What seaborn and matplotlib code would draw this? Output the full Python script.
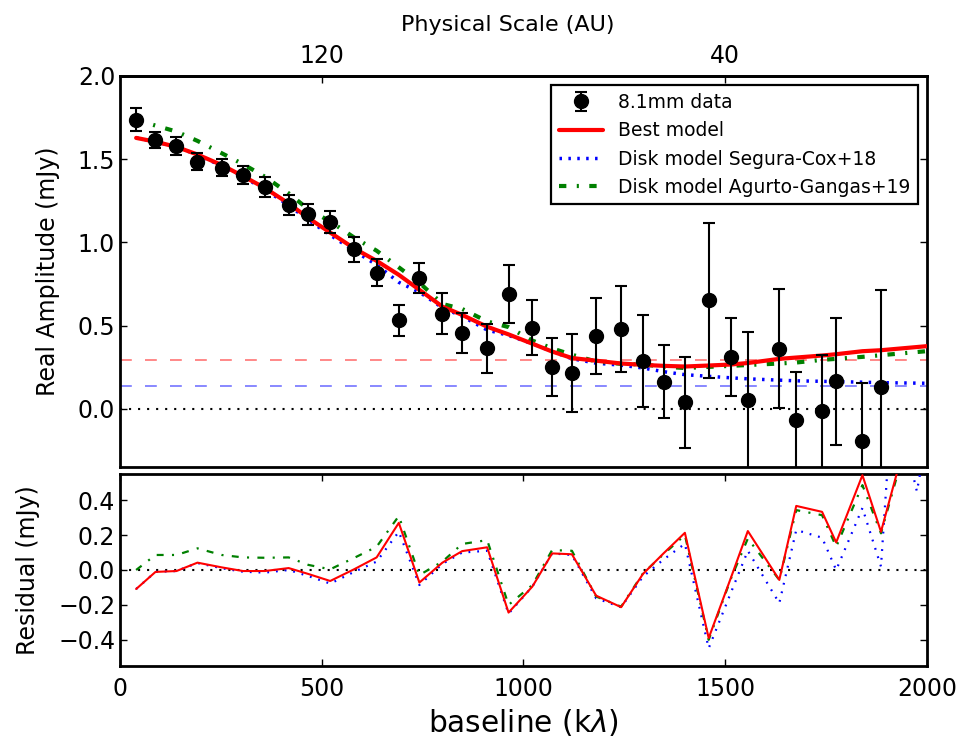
import numpy as np
import pandas as pd
import matplotlib
matplotlib.use("Agg")
import matplotlib.pyplot as plt
import seaborn as sns

# ---------------- data ----------------
baseline = [40, 88, 140, 192, 252, 305, 359, 418, 467, 521, 581, 636, 691, 742,
            799, 848, 910, 963, 1022, 1071, 1120, 1180, 1242, 1296, 1347, 1400,
            1459, 1514, 1556, 1634, 1676, 1740, 1775, 1840, 1886]
amp = [1.737, 1.616, 1.580, 1.486, 1.450, 1.404, 1.333, 1.223, 1.169, 1.122,
       0.958, 0.817, 0.532, 0.787, 0.572, 0.456, 0.363, 0.691, 0.486, 0.249,
       0.215, 0.436, 0.480, 0.289, 0.163, 0.038, 0.652, 0.311, 0.050, 0.361,
       -0.066, -0.016, 0.164, -0.195, 0.132]
amp_err = [0.07, 0.046, 0.056, 0.05, 0.052, 0.056, 0.058, 0.06, 0.062, 0.065,
           0.073, 0.082, 0.092, 0.092, 0.122, 0.118, 0.148, 0.175, 0.165, 0.175,
           0.235, 0.229, 0.259, 0.276, 0.22, 0.272, 0.466, 0.234, 0.41, 0.358,
           0.29, 0.34, 0.384, 0.35, 0.58]

# model curves (sampled at the data baselines plus one point beyond 2000 kλ)
model_base = baseline + [2040]
best_model = [1.628, 1.605, 1.574, 1.528, 1.465, 1.398, 1.327, 1.234, 1.146, 1.059,
              0.963, 0.889, 0.805, 0.715, 0.614, 0.564, 0.493, 0.447, 0.391, 0.344,
              0.305, 0.289, 0.272, 0.264, 0.258, 0.254, 0.260, 0.266, 0.275, 0.300,
              0.308, 0.320, 0.328, 0.346, 0.352, 0.385]
segura_model = [1.628, 1.605, 1.574, 1.526, 1.460, 1.394, 1.318, 1.223, 1.134, 1.044,
                0.948, 0.865, 0.760, 0.701, 0.607, 0.556, 0.473, 0.441, 0.391, 0.344,
                0.301, 0.274, 0.262, 0.245, 0.223, 0.205, 0.195, 0.186, 0.180, 0.172,
                0.168, 0.165, 0.163, 0.160, 0.157, 0.152]
agurto_model = [1.737, 1.702, 1.666, 1.610, 1.536, 1.470, 1.395, 1.295, 1.198, 1.126,
                1.028, 0.950, 0.850, 0.758, 0.630, 0.600, 0.525, 0.491, 0.410, 0.363,
                0.325, 0.284, 0.270, 0.266, 0.253, 0.245, 0.252, 0.258, 0.263, 0.272,
                0.278, 0.294, 0.300, 0.312, 0.322, 0.355]

# noise levels (horizontal reference lines)
level_best = 0.295
level_segura = 0.139

# residuals (model - data)
res_base_best = baseline + [1960]
res_best = [-0.109, -0.011, -0.006, 0.042, 0.015, -0.006, -0.006, 0.011, -0.023, -0.063,
            0.005, 0.072, 0.270, -0.072, 0.042, 0.108, 0.130, -0.244, -0.095, 0.095,
            0.090, -0.147, -0.213, -0.023, 0.095, 0.213, -0.390, -0.045, 0.223, -0.057,
            0.367, 0.333, 0.158, 0.543, 0.219, 0.85]
res_base_segura = baseline + [1915, 1975, 2010]
res_segura = [-0.109, -0.011, -0.006, 0.040, 0.010, -0.010, -0.015, 0.000, -0.035, -0.078,
              -0.010, 0.048, 0.219, -0.086, 0.035, 0.100, 0.110, -0.250, -0.095, 0.095,
              0.086, -0.162, -0.213, -0.038, 0.060, 0.150, -0.448, -0.130, 0.110, -0.190,
              0.229, 0.185, 0.000, 0.355, 0.020, 1.03, 0.45, 0.90]
res_base_agurto = baseline + [1960]
res_agurto = [0.000, 0.086, 0.086, 0.124, 0.086, 0.072, 0.070, 0.072, 0.029, 0.004,
              0.070, 0.133, 0.309, -0.029, 0.048, 0.149, 0.171, -0.200, -0.086, 0.114,
              0.110, -0.152, -0.210, -0.020, 0.090, 0.200, -0.400, -0.050, 0.180, -0.057,
              0.343, 0.314, 0.133, 0.486, 0.210, 0.82]

au_tick_pos = [500, 1500]
au_tick_labels = ["120", "40"]

# ---------------- style ----------------
sns.set_style("ticks")
plt.rcParams.update({
    "font.family": ["DejaVu Sans"],
    "lines.scale_dashes": False,
    "axes.linewidth": 2.0,
    "xtick.direction": "in",
    "ytick.direction": "in",
    "xtick.major.size": 5,
    "ytick.major.size": 5,
    "xtick.major.width": 1.0,
    "ytick.major.width": 1.0,
    "xtick.labelsize": 17,
    "ytick.labelsize": 17,
    "axes.edgecolor": "black",
    "xtick.color": "black",
    "ytick.color": "black",
    "xtick.labelcolor": "black",
    "ytick.labelcolor": "black",
    "text.color": "black",
    "axes.labelcolor": "black",
})

DOT_TOP = (0, (1.8, 4.6))
DASHDOT_TOP = (0, (5.3, 7.5, 1.5, 7.5))
DOT_RES = (0, (1.3, 5))
DASHDOT_RES = (0, (5, 6, 1.5, 6))

fig = plt.figure(figsize=(9.63, 7.40), dpi=100)
ax1 = fig.add_axes([0.1246, 0.3689, 0.838, 0.5284])
ax2 = fig.add_axes([0.1246, 0.1000, 0.838, 0.2595])

# ---------------- top panel ----------------
ax1.axhline(level_best, color="red", alpha=0.5, lw=1.3, dashes=(8.5, 9.5))
ax1.axhline(level_segura, color="blue", alpha=0.5, lw=1.3, dashes=(8.5, 9.5))
ax1.axhline(0.0, color="black", lw=1.5, dashes=(1.5, 5))

eb = ax1.errorbar(baseline, amp, yerr=amp_err, fmt="o", color="black", ms=10,
                  elinewidth=1.5, capsize=4.5, capthick=1.5, label="8.1mm data",
                  zorder=5)

top_df = pd.DataFrame({"baseline": model_base, "best": best_model,
                       "segura": segura_model, "agurto": agurto_model})
sns.lineplot(data=top_df, x="baseline", y="best", color="red", lw=3,
             label="Best model", ax=ax1, zorder=4)
sns.lineplot(data=top_df, x="baseline", y="segura", color="blue", lw=2.5,
             linestyle=DOT_TOP, label="Disk model Segura-Cox+18",
             ax=ax1, zorder=3)
sns.lineplot(data=top_df, x="baseline", y="agurto", color="green", lw=3,
             linestyle=DASHDOT_TOP, label="Disk model Agurto-Gangas+19",
             ax=ax1, zorder=3)

ax1.set_xlim(0, 2000)
ax1.set_ylim(-0.35, 2.0)
ax1.set_yticks([0.0, 0.5, 1.0, 1.5, 2.0])
ax1.set_ylabel("Real Amplitude (mJy)", fontsize=17)
ax1.set_xlabel("")
ax1.tick_params(axis="x", bottom=False, top=False, labelbottom=False)
ax1.tick_params(axis="y", left=True, right=True)
for s in ax1.spines.values():
    s.set_visible(True)
    s.set_linewidth(2.0)

handles, labels = ax1.get_legend_handles_labels()
order = ["8.1mm data", "Best model", "Disk model Segura-Cox+18",
         "Disk model Agurto-Gangas+19"]
hmap = dict(zip(labels, handles))
leg = ax1.legend([hmap[k] for k in order], order, loc="upper right", fontsize=13.5,
                 numpoints=1, fancybox=False, framealpha=1, edgecolor="black",
                 borderaxespad=0.5, handlelength=2.35, handletextpad=0.8)
leg.get_frame().set_linewidth(1.6)

sec = ax1.secondary_xaxis("top")
sec.set_xticks(au_tick_pos)
sec.set_xticklabels(au_tick_labels)
sec.tick_params(direction="in", length=5, width=1.0, labelsize=17, pad=6)
sec.set_xlabel("Physical Scale (AU)", fontsize=16, labelpad=9)
sec.xaxis.label.set_x(0.481)
sec.spines["top"].set_linewidth(2.0)

# ---------------- residual panel ----------------
ax2.axhline(0.0, color="black", lw=1.5, dashes=(1.5, 5))
sns.lineplot(x=res_base_best, y=res_best, color="red", lw=1.5, ax=ax2, zorder=4)
sns.lineplot(x=res_base_segura, y=res_segura, color="blue", lw=1.6,
             linestyle=DOT_RES, ax=ax2, zorder=3)
sns.lineplot(x=res_base_agurto, y=res_agurto, color="green", lw=1.6,
             linestyle=DASHDOT_RES, ax=ax2, zorder=3)
ax2.set_xlim(0, 2000)
ax2.set_ylim(-0.55, 0.55)
ax2.set_xticks([0, 500, 1000, 1500, 2000])
ax2.set_yticks([-0.4, -0.2, 0.0, 0.2, 0.4])
ax2.tick_params(axis="x", top=True, bottom=True, pad=8)
ax2.tick_params(axis="y", left=True, right=True)
ax2.set_xlabel("baseline (k$\\lambda$)", fontsize=21.3, labelpad=4)
ax2.set_ylabel("Residual (mJy)", fontsize=17)
for s in ax2.spines.values():
    s.set_visible(True)
    s.set_linewidth(2.0)

ax1.yaxis.set_label_coords(-0.0743, 0.5)
ax2.yaxis.set_label_coords(-0.099, 0.5)

fig.savefig("out.png", dpi=100)
